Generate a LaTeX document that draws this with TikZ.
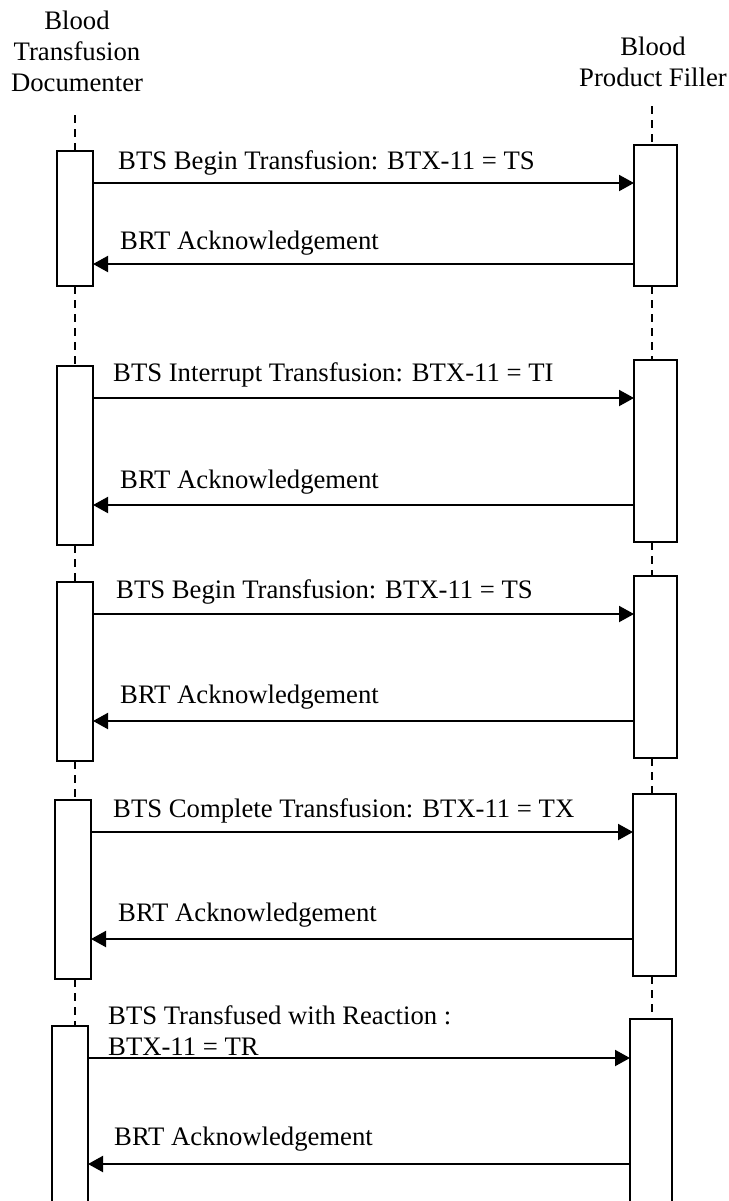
\documentclass[tikz,border=0pt]{standalone}
\usepackage{fontspec}
\setmainfont{Liberation Serif}
\usetikzlibrary{arrows.meta}
\begin{document}
\begin{tikzpicture}[x=1bp,y=-1bp,
  every node/.style={font=\fontsize{26.7bp}{31bp}\selectfont},
  act/.style={draw, line width=1.7bp, fill=white, inner sep=0pt, outer sep=0pt},
  life/.style={line width=1.5bp, dash pattern=on 8bp off 6bp},
  msg/.style={line width=2bp, -{Triangle[length=15bp,width=16bp]}},
  lbl/.style={anchor=west, inner sep=0pt},
  hdr/.style={align=center, inner sep=0pt}]
\useasboundingbox (0,0) rectangle (729,1201);

% participants
\node[hdr] (hL) at (77,51) {Blood\\Transfusion\\Documenter};
\node[hdr] (hR) at (653,62) {Blood\\Product Filler};

% lifeline anchors
\coordinate (lt) at (75,115);
\coordinate (rt) at (652,106);

% activation boxes, documenter side
\node[act, minimum width=36bp, minimum height=135bp] (L1) at (75,218.5) {};
\node[act, minimum width=36bp, minimum height=179bp] (L2) at (75,455.5) {};
\node[act, minimum width=36bp, minimum height=179bp] (L3) at (75,671.5) {};
\node[act, minimum width=36bp, minimum height=179bp] (L4) at (73,889.5) {};
\node[act, minimum width=36bp, minimum height=200bp] (L5) at (70,1126) {};

% activation boxes, filler side
\node[act, minimum width=43bp, minimum height=141bp] (R1) at (655.5,215.5) {};
\node[act, minimum width=43bp, minimum height=182bp] (R2) at (655.5,451) {};
\node[act, minimum width=43bp, minimum height=182bp] (R3) at (655.5,667) {};
\node[act, minimum width=43bp, minimum height=182bp] (R4) at (654.5,885) {};
\node[act, minimum width=42bp, minimum height=200bp] (R5) at (651,1119) {};

% dashed lifeline segments
\draw[life] (lt) -- (L1.north -| lt);
\draw[life] (L1.south -| lt) -- (L2.north -| lt);
\draw[life] (L2.south -| lt) -- (L3.north -| lt);
\draw[life] (L3.south -| lt) -- (L4.north -| lt);
\draw[life] (L4.south -| lt) -- (L5.north -| lt);
\draw[life] (rt) -- (R1.north -| rt);
\draw[life] (R1.south -| rt) -- (R2.north -| rt);
\draw[life] (R2.south -| rt) -- (R3.north -| rt);
\draw[life] (R3.south -| rt) -- (R4.north -| rt);
\draw[life] (R4.south -| rt) -- (R5.north -| rt);

% messages
\draw[msg] (L1.east |- 0,183) -- (R1.west |- 0,183);
\draw[msg] (R1.west |- 0,264) -- (L1.east |- 0,264);
\draw[msg] (L2.east |- 0,398) -- (R2.west |- 0,398);
\draw[msg] (R2.west |- 0,505) -- (L2.east |- 0,505);
\draw[msg] (L3.east |- 0,614) -- (R3.west |- 0,614);
\draw[msg] (R3.west |- 0,721) -- (L3.east |- 0,721);
\draw[msg] (L4.east |- 0,832) -- (R4.west |- 0,832);
\draw[msg] (R4.west |- 0,939) -- (L4.east |- 0,939);
\draw[msg] (L5.east |- 0,1058) -- (R5.west |- 0,1058);
\draw[msg] (R5.west |- 0,1164) -- (L5.east |- 0,1164);

% message labels
\node[lbl] (m1) at (118,163) {BTS Begin Transfusion: BTX-11 = TS};
\node[lbl] (m2) at (120,243) {BRT Acknowledgement};
\node[lbl] (m3) at (113,375) {BTS Interrupt Transfusion: BTX-11 = TI};
\node[lbl] (m4) at (120,482) {BRT Acknowledgement};
\node[lbl] (m5) at (116,592) {BTS Begin Transfusion: BTX-11 = TS};
\node[lbl] (m6) at (120,697) {BRT Acknowledgement};
\node[lbl] (m7) at (113,811) {BTS Complete Transfusion: BTX-11 = TX};
\node[lbl] (m8) at (118,915) {BRT Acknowledgement};
\node[lbl, align=left] (m9) at (108,1031) {BTS Transfused with Reaction :\\BTX-11 = TR};
\node[lbl] (m10) at (114,1139) {BRT Acknowledgement};
\end{tikzpicture}
\end{document}
